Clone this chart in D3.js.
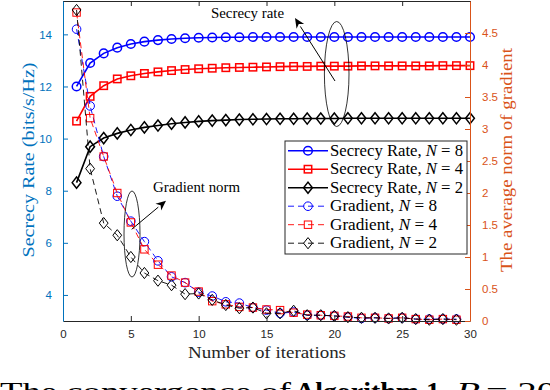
<!DOCTYPE html>
<html>
<head>
<meta charset="utf-8">
<script src="https://cdn.jsdelivr.net/npm/d3@7"></script>
<style>
  html, body { margin: 0; padding: 0; background: #fff; overflow: hidden; }
  svg { display: block; }
  .tick-label { font-family: "Liberation Sans", Arial, sans-serif; font-size: 11.5px; }
  .serif { font-family: "Liberation Serif", "Times New Roman", serif; }
</style>
</head>
<body>
<svg id="chart" width="550" height="390"></svg>
<script>
// iterations 1..30 for the rate, 1..29 for the gradient
const iterations = d3.range(1, 31);
const gradIterations = d3.range(1, 30);

const rateN8 = [12.0, 12.9, 13.27, 13.49, 13.63, 13.72, 13.78, 13.82, 13.85, 13.87,
  13.88, 13.89, 13.89, 13.9, 13.9, 13.9, 13.9, 13.9, 13.9, 13.9,
  13.9, 13.9, 13.9, 13.9, 13.9, 13.9, 13.9, 13.9, 13.9, 13.9];
const rateN4 = [10.67, 11.62, 12.03, 12.29, 12.41, 12.5, 12.56, 12.61, 12.65, 12.68,
  12.7, 12.72, 12.73, 12.74, 12.75, 12.76, 12.77, 12.77, 12.78, 12.78,
  12.78, 12.79, 12.79, 12.79, 12.79, 12.79, 12.79, 12.8, 12.8, 12.8];
const rateN2 = [8.31, 9.69, 10.02, 10.2, 10.33, 10.43, 10.5, 10.57, 10.62, 10.66,
  10.69, 10.71, 10.73, 10.74, 10.75, 10.76, 10.76, 10.77, 10.77, 10.77,
  10.78, 10.78, 10.78, 10.78, 10.78, 10.78, 10.78, 10.78, 10.78, 10.78];

const gradN8 = [4.56, 3.36, 2.57, 1.95, 1.56, 1.24, 0.94, 0.69, 0.6, 0.45,
  0.39, 0.3, 0.28, 0.21, 0.17, 0.12, 0.14, 0.09, 0.09, 0.08,
  0.06, 0.04, 0.05, 0.04, 0.05, 0.03, 0.03, 0.03, 0.03];
const gradN4 = [4.82, 3.17, 2.57, 2.0, 1.54, 1.12, 0.88, 0.71, 0.6, 0.46,
  0.31, 0.26, 0.22, 0.21, 0.18, 0.17, 0.13, 0.1, 0.09, 0.08,
  0.07, 0.05, 0.05, 0.04, 0.05, 0.03, 0.02, 0.03, 0.02];
const gradN2 = [4.86, 2.38, 1.53, 1.34, 1.0, 0.75, 0.63, 0.56, 0.42, 0.43,
  0.33, 0.25, 0.2, 0.21, 0.12, 0.12, 0.16, 0.09, 0.09, 0.08,
  0.06, 0.05, 0.05, 0.04, 0.05, 0.03, 0.02, 0.03, 0.02];

const xTicks = [0, 5, 10, 15, 20, 25, 30];
const leftTicks = [4, 6, 8, 10, 12, 14];
const rightTicks = [0, 0.5, 1, 1.5, 2, 2.5, 3, 3.5, 4, 4.5];

const legendLabels = [
  ['Secrecy Rate, ', '8'], ['Secrecy Rate, ', '4'], ['Secrecy Rate, ', '2'],
  ['Gradient, ', '8'], ['Gradient, ', '4'], ['Gradient, ', '2']
];

const BLUE_AX = '#0072BD';
const ORANGE_AX = '#D95319';
const DARK = '#262626';

const svg = d3.select('#chart');
const m = { left: 63, right: 470, top: 1, bottom: 321 };

const x = d3.scaleLinear().domain([0, 30]).range([m.left, m.right]);
const yL = d3.scaleLinear().domain([3, 15.28]).range([m.bottom, m.top]);
const yR = d3.scaleLinear().domain([0, 5]).range([m.bottom, m.top]);

// marker shapes
function marker(g, shape, cx, cy, color, sw) {
  if (shape === 'circle') {
    g.append('circle').attr('cx', cx).attr('cy', cy).attr('r', 4.3)
      .attr('fill', 'none').attr('stroke', color).attr('stroke-width', sw);
  } else if (shape === 'square') {
    g.append('rect').attr('x', cx - 3.7).attr('y', cy - 3.7).attr('width', 7.4).attr('height', 7.4)
      .attr('fill', 'none').attr('stroke', color).attr('stroke-width', sw);
  } else {
    const w = 4.4, h = 5.6;
    g.append('path').attr('d', `M${cx},${cy - h}L${cx + w},${cy}L${cx},${cy + h}L${cx - w},${cy}Z`)
      .attr('fill', 'none').attr('stroke', color).attr('stroke-width', sw);
  }
}

const series = [
  { xs: iterations, ys: rateN8, y: yL, color: '#0000FF', shape: 'circle', dash: null, lw: 1.6 },
  { xs: iterations, ys: rateN4, y: yL, color: '#FF0000', shape: 'square', dash: null, lw: 1.6 },
  { xs: iterations, ys: rateN2, y: yL, color: '#000000', shape: 'diamond', dash: null, lw: 1.6 },
  { xs: gradIterations, ys: gradN8, y: yR, color: '#0000FF', shape: 'circle', dash: '6,4', lw: 0.9 },
  { xs: gradIterations, ys: gradN4, y: yR, color: '#FF0000', shape: 'square', dash: '6,4', lw: 0.9 },
  { xs: gradIterations, ys: gradN2, y: yR, color: '#000000', shape: 'diamond', dash: '6,4', lw: 0.9 }
];

const plot = svg.append('g');
series.forEach(s => {
  const pts = s.xs.map((d, i) => [x(d), s.y(s.ys[i])]);
  plot.append('path').attr('d', d3.line()(pts))
    .attr('fill', 'none').attr('stroke', s.color).attr('stroke-width', s.lw)
    .attr('stroke-dasharray', s.dash);
  const mg = plot.append('g');
  pts.forEach(p => marker(mg, s.shape, p[0], p[1], s.color, s.dash ? 1 : 1.5));
});

// axes (MATLAB style, ticks pointing in)
const tl = 5;
const axBottom = svg.append('g').attr('transform', `translate(0,${m.bottom})`)
  .call(d3.axisBottom(x).tickValues(xTicks).tickSize(-tl).tickPadding(9).tickSizeOuter(0));
const axTop = svg.append('g').attr('transform', `translate(0,${m.top})`)
  .call(d3.axisTop(x).tickValues(xTicks).tickSize(-tl).tickFormat('').tickSizeOuter(0));
[axBottom, axTop].forEach(a => {
  a.select('.domain').attr('stroke', DARK);
  a.selectAll('.tick line').attr('stroke', DARK);
});
axBottom.selectAll('.tick text').attr('class', 'tick-label').attr('fill', DARK).attr('font-size', null).attr('font-family', null);

const axLeft = svg.append('g').attr('transform', `translate(${m.left},0)`)
  .call(d3.axisLeft(yL).tickValues(leftTicks).tickSize(-tl).tickPadding(11).tickSizeOuter(0));
axLeft.select('.domain').attr('stroke', BLUE_AX);
axLeft.selectAll('.tick line').attr('stroke', BLUE_AX);
axLeft.selectAll('.tick text').attr('class', 'tick-label').attr('fill', BLUE_AX).attr('font-size', null).attr('font-family', null);

const axRight = svg.append('g').attr('transform', `translate(${m.right},0)`)
  .call(d3.axisRight(yR).tickValues(rightTicks).tickSize(-tl).tickPadding(12).tickSizeOuter(0)
    .tickFormat(d3.format('')));
axRight.select('.domain').attr('stroke', ORANGE_AX);
axRight.selectAll('.tick line').attr('stroke', ORANGE_AX);
axRight.selectAll('.tick text').attr('class', 'tick-label').attr('fill', ORANGE_AX).attr('font-size', null).attr('font-family', null);

// axis labels
svg.append('text').attr('class', 'serif').attr('x', 267).attr('y', 358)
  .attr('text-anchor', 'middle').attr('font-size', 17.5).attr('fill', DARK)
  .attr('textLength', 158).attr('lengthAdjust', 'spacingAndGlyphs')
  .text('Number of iterations');
svg.append('text').attr('class', 'serif')
  .attr('transform', 'translate(34,160) rotate(-90)')
  .attr('text-anchor', 'middle').attr('font-size', 17).attr('fill', BLUE_AX)
  .attr('textLength', 195).attr('lengthAdjust', 'spacingAndGlyphs')
  .text('Secrecy Rate (bits/s/Hz)');
svg.append('text').attr('class', 'serif')
  .attr('transform', 'translate(512,160) rotate(-90)')
  .attr('text-anchor', 'middle').attr('font-size', 17).attr('fill', ORANGE_AX)
  .attr('textLength', 224).attr('lengthAdjust', 'spacingAndGlyphs')
  .text('The average norm of gradient');

// legend
const lg = svg.append('g');
lg.append('rect').attr('x', 285).attr('y', 141).attr('width', 182).attr('height', 113)
  .attr('fill', '#fff').attr('stroke', DARK).attr('stroke-width', 1);
series.forEach((s, i) => {
  const cy = 150.7 + i * 18.5;
  lg.append('line').attr('x1', 288).attr('x2', 328).attr('y1', cy).attr('y2', cy)
    .attr('stroke', s.color).attr('stroke-width', s.lw).attr('stroke-dasharray', s.dash);
  marker(lg, s.shape, 308, cy, s.color, s.dash ? 1 : 1.5);
  const t = lg.append('text').attr('class', 'serif').attr('x', 330).attr('y', cy + 5)
    .attr('font-size', 16).attr('fill', '#000')
    .attr('textLength', i < 3 ? 133 : 107).attr('lengthAdjust', 'spacingAndGlyphs');
  t.append('tspan').text(legendLabels[i][0]);
  t.append('tspan').attr('font-style', 'italic').text('N');
  t.append('tspan').text(' = ' + legendLabels[i][1]);
});

// annotations
const ann = svg.append('g');
function arrow(x1, y1, x2, y2) {
  const ang = Math.atan2(y2 - y1, x2 - x1);
  const L = 10, W = 4.5;
  const bx = x2 - L * Math.cos(ang), by = y2 - L * Math.sin(ang);
  ann.append('line').attr('x1', x1).attr('y1', y1).attr('x2', bx).attr('y2', by)
    .attr('stroke', '#000').attr('stroke-width', 1);
  const px = -Math.sin(ang) * W, py = Math.cos(ang) * W;
  ann.append('path')
    .attr('d', `M${x2},${y2}L${bx + px},${by + py}L${bx + 3 * Math.cos(ang)},${by + 3 * Math.sin(ang)}L${bx - px},${by - py}Z`)
    .attr('fill', '#000');
}
ann.append('ellipse').attr('cx', 336.7).attr('cy', 74).attr('rx', 12.3).attr('ry', 52.5)
  .attr('fill', 'none').attr('stroke', '#000').attr('stroke-width', 0.8);
arrow(335, 81, 295, 18);
ann.append('text').attr('class', 'serif').attr('x', 211).attr('y', 17.5)
  .attr('font-size', 15.5).attr('textLength', 73).attr('lengthAdjust', 'spacingAndGlyphs')
  .text('Secrecy rate');

ann.append('ellipse').attr('cx', 132).attr('cy', 234).attr('rx', 8).attr('ry', 43)
  .attr('fill', 'none').attr('stroke', '#000').attr('stroke-width', 0.8);
arrow(131.7, 229.3, 166, 200.7);
ann.append('text').attr('class', 'serif').attr('x', 153).attr('y', 192)
  .attr('font-size', 15.5).attr('textLength', 87).attr('lengthAdjust', 'spacingAndGlyphs')
  .text('Gradient norm');

// caption, cut off by the bottom edge as in the source figure
const cap = svg.append('text').attr('class', 'serif').attr('y', 400)
  .attr('font-size', 26).attr('fill', '#000');
cap.append('tspan').attr('x', 0).attr('textLength', 291).attr('lengthAdjust', 'spacingAndGlyphs')
  .text('The convergence of');
cap.append('tspan').attr('x', 295).attr('font-weight', 'bold')
  .attr('textLength', 145).attr('lengthAdjust', 'spacingAndGlyphs').text('Algorithm 1');
cap.append('tspan').text('.');
cap.append('tspan').attr('x', 456).attr('font-style', 'italic')
  .attr('textLength', 24).attr('lengthAdjust', 'spacingAndGlyphs').text('B');
cap.append('tspan').attr('x', 486).attr('textLength', 70).attr('lengthAdjust', 'spacingAndGlyphs').text('= 20');
</script>
</body>
</html>
